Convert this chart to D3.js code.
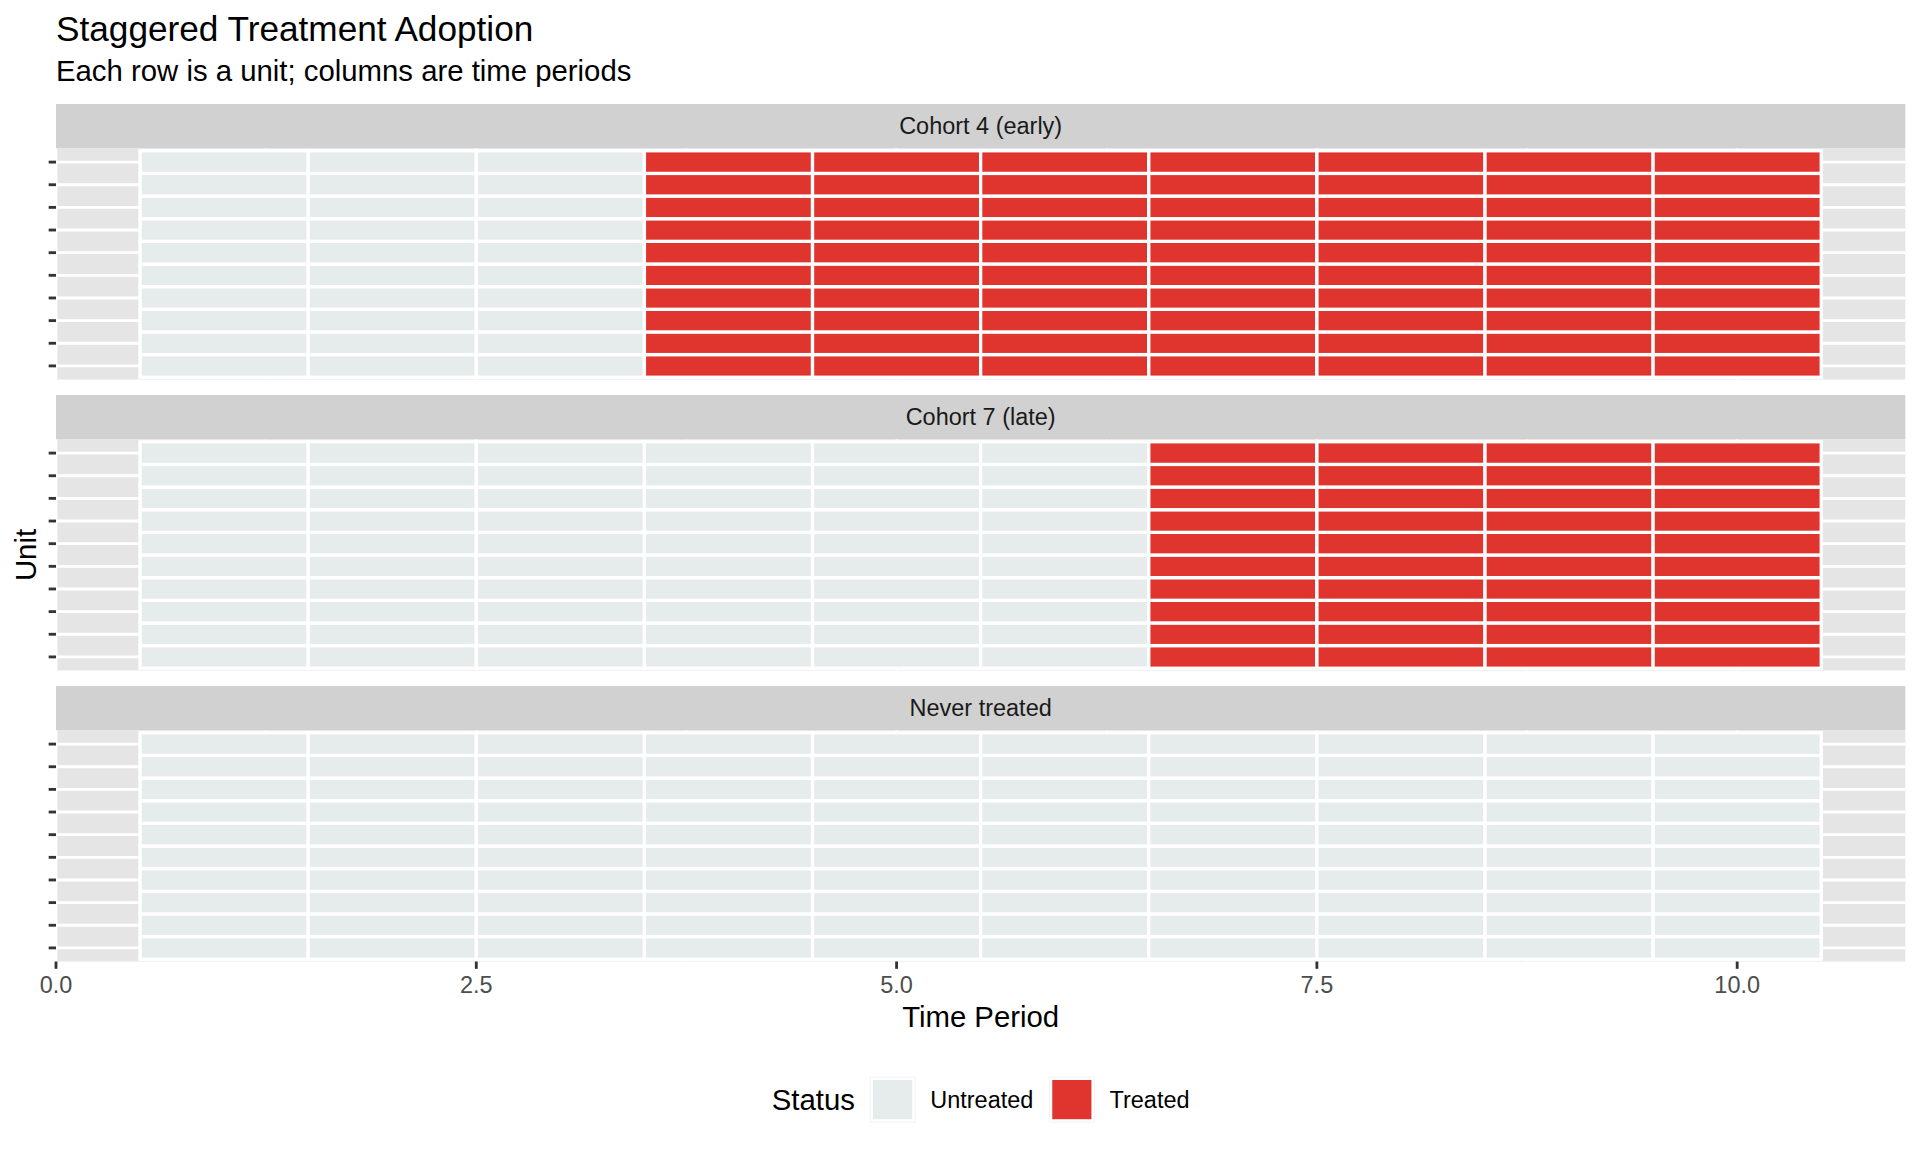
<!DOCTYPE html>
<html>
<head>
<meta charset="utf-8">
<script src="https://cdn.jsdelivr.net/npm/d3@7"></script>
<style>
  body { margin: 0; background: #fff; }
  svg text { font-family: "Liberation Sans", Arial, Helvetica, sans-serif; }
</style>
</head>
<body>
<div id="chart"></div>
<script>
// Chart data
const periods = [1, 2, 3, 4, 5, 6, 7, 8, 9, 10];
const cohorts = ["Cohort 4 (early)", "Cohort 7 (late)", "Never treated"];
const adoptionPeriod = [4, 7, null];
const cohortUnits = [
    ["U01", "U02", "U03", "U04", "U05", "U06", "U07", "U08", "U09", "U10"],
    ["U11", "U12", "U13", "U14", "U15", "U16", "U17", "U18", "U19", "U20"],
    ["U21", "U22", "U23", "U24", "U25", "U26", "U27", "U28", "U29", "U30"]
];
const statusLevels = ["Untreated", "Treated"];
const statusColors = ["#e6ebeb", "#e0352f"];
const xTicks = [0, 2.5, 5, 7.5, 10];
const xMinorTicks = [1.25, 3.75, 6.25, 8.75];

const W = 1920, H = 1152;
const left = 56, right = 1905.3;
const stripTop = 104, stripH = 44.5, panelH = 231, gap = 15.5;
const px = 2.84; // 0.5 linewidth at 192 dpi

const svg = d3.select("#chart").append("svg")
    .attr("width", W).attr("height", H);

const x = d3.scaleLinear().domain([0, 11]).range([left, right]);
const color = d3.scaleOrdinal().domain(statusLevels).range(statusColors);

// Titles
svg.append("text").attr("x", left).attr("y", 41)
    .attr("font-size", 35.2).attr("fill", "#000")
    .text("Staggered Treatment Adoption");
svg.append("text").attr("x", left).attr("y", 81)
    .attr("font-size", 29.33).attr("fill", "#000")
    .text("Each row is a unit; columns are time periods");

cohorts.forEach((cohort, ci) => {
    const sTop = stripTop + ci * (stripH + panelH + gap);
    const pTop = sTop + stripH;
    const units = cohortUnits[ci];
    // first level at the bottom, like a discrete ggplot axis
    const y = d3.scaleBand().domain(units.slice().reverse())
        .range([pTop, pTop + panelH]).paddingInner(0).paddingOuter(0.1);

    const g = svg.append("g");

    // strip
    g.append("rect").attr("x", left).attr("y", sTop)
        .attr("width", right - left).attr("height", stripH)
        .attr("fill", "#d1d1d1");
    g.append("text").attr("x", (left + right) / 2).attr("y", sTop + stripH / 2 + 8.2)
        .attr("text-anchor", "middle").attr("font-size", 23.47).attr("fill", "#1a1a1a")
        .text(cohort);

    // panel background + grid
    g.append("rect").attr("x", left).attr("y", pTop)
        .attr("width", right - left).attr("height", panelH)
        .attr("fill", "#e5e5e5");
    g.selectAll(".vminor").data(xMinorTicks).enter().append("line")
        .attr("x1", d => x(d)).attr("x2", d => x(d))
        .attr("y1", pTop).attr("y2", pTop + panelH)
        .attr("stroke", "#fff").attr("stroke-width", px / 2);
    g.selectAll(".vmajor").data(xTicks).enter().append("line")
        .attr("x1", d => x(d)).attr("x2", d => x(d))
        .attr("y1", pTop).attr("y2", pTop + panelH)
        .attr("stroke", "#fff").attr("stroke-width", px);
    g.selectAll(".hmajor").data(units).enter().append("line")
        .attr("x1", left).attr("x2", right)
        .attr("y1", d => y(d) + y.bandwidth() / 2).attr("y2", d => y(d) + y.bandwidth() / 2)
        .attr("stroke", "#fff").attr("stroke-width", px);

    // tiles
    const cells = [];
    units.forEach(u => periods.forEach(p => {
        const a = adoptionPeriod[ci];
        cells.push({ unit: u, period: p, status: (a !== null && p >= a) ? "Treated" : "Untreated" });
    }));
    g.selectAll(".tile").data(cells).enter().append("rect")
        .attr("x", d => x(d.period - 0.5))
        .attr("width", d => x(d.period + 0.5) - x(d.period - 0.5))
        .attr("y", d => y(d.unit))
        .attr("height", y.bandwidth())
        .attr("fill", d => color(d.status))
        .attr("stroke", "#fff").attr("stroke-width", 3.3);

    // y ticks (no labels)
    g.selectAll(".ytick").data(units).enter().append("line")
        .attr("x1", left - 7.33).attr("x2", left)
        .attr("y1", d => y(d) + y.bandwidth() / 2).attr("y2", d => y(d) + y.bandwidth() / 2)
        .attr("stroke", "#333").attr("stroke-width", px);

    // x axis on the bottom panel only
    if (ci === cohorts.length - 1) {
        const bottom = pTop + panelH;
        const ax = svg.append("g");
        ax.selectAll("line").data(xTicks).enter().append("line")
            .attr("x1", d => x(d)).attr("x2", d => x(d))
            .attr("y1", bottom).attr("y2", bottom + 7.33)
            .attr("stroke", "#333").attr("stroke-width", px);
        ax.selectAll("text").data(xTicks).enter().append("text")
            .attr("x", d => x(d)).attr("y", bottom + 31.5)
            .attr("text-anchor", "middle").attr("font-size", 23.47).attr("fill", "#4d4d4d")
            .text(d => d3.format(".1f")(d));
        svg.append("text").attr("x", (left + right) / 2).attr("y", bottom + 65)
            .attr("text-anchor", "middle").attr("font-size", 29.33).attr("fill", "#000")
            .text("Time Period");
    }
});

// y axis title
const yMid = (stripTop + stripH + (stripTop + 3 * (stripH + panelH) + 2 * gap)) / 2;
svg.append("text").attr("transform", `translate(36,${yMid}) rotate(-90)`)
    .attr("text-anchor", "middle").attr("font-size", 29.33).attr("fill", "#000")
    .text("Unit");

// legend
const keySize = 46, keyCy = 1099.6;
const leg = svg.append("g");
const title = leg.append("text").attr("x", 0).attr("y", keyCy + 10.3)
    .attr("font-size", 29.33).attr("fill", "#000").text("Status");
let cx = title.node().getComputedTextLength() + 14.67;
statusLevels.forEach((s, i) => {
    leg.append("rect").attr("x", cx).attr("y", keyCy - keySize / 2)
        .attr("width", keySize).attr("height", keySize).attr("fill", "#f2f2f2");
    leg.append("rect").attr("x", cx + 2.2).attr("y", keyCy - keySize / 2 + 2.2)
        .attr("width", keySize - 4.4).attr("height", keySize - 4.4)
        .attr("fill", color(s)).attr("stroke", "#fff").attr("stroke-width", 2.4);
    cx += keySize + 14.67;
    const t = leg.append("text").attr("x", cx).attr("y", keyCy + 8.2)
        .attr("font-size", 23.47).attr("fill", "#000").text(s);
    cx += t.node().getComputedTextLength();
    if (i < statusLevels.length - 1) cx += 15.5;
});
leg.attr("transform", `translate(${(left + right) / 2 - cx / 2},0)`);
</script>
</body>
</html>
